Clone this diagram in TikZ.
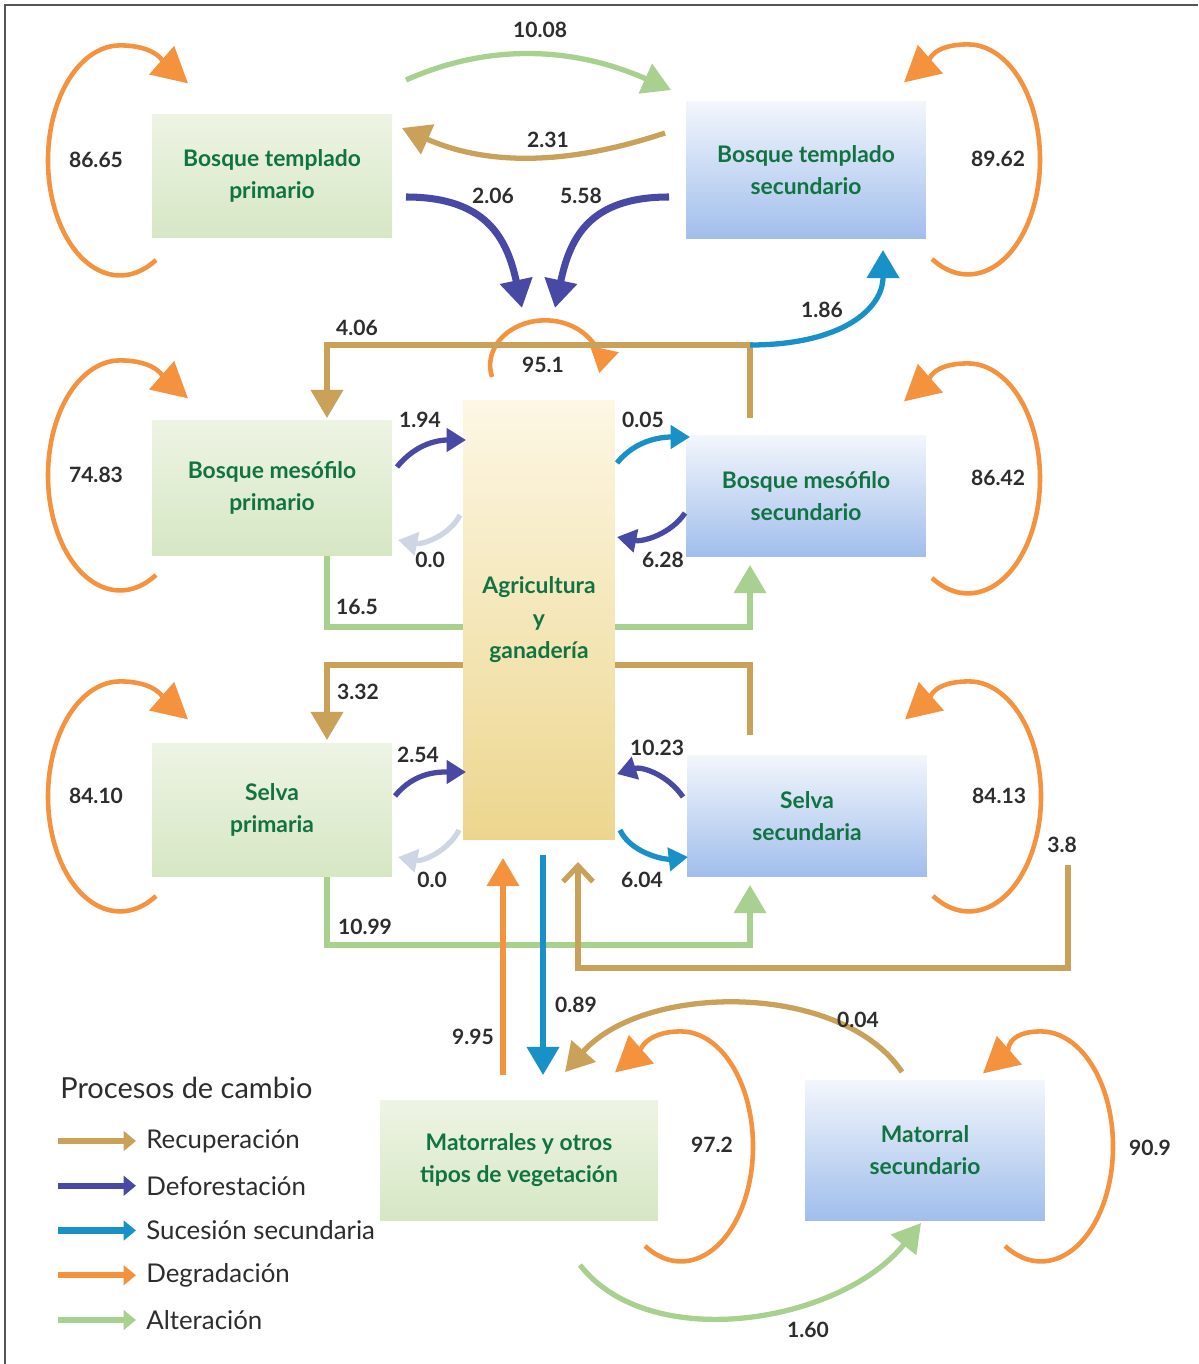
\documentclass[tikz,border=0pt]{standalone}
\usepackage{fontspec}
\setmainfont{Lato}
\usepackage{tikz}
\usetikzlibrary{arrows.meta, calc, backgrounds}
\usepackage{xcolor}
\definecolor{recup}{RGB}{201,161,88}
\definecolor{defor}{RGB}{72,72,165}
\definecolor{suces}{RGB}{24,145,200}
\definecolor{degrad}{RGB}{244,146,62}
\definecolor{alter}{RGB}{168,208,142}
\definecolor{nulo}{RGB}{205,214,226}
\definecolor{verdetxt}{RGB}{18,115,66}
\definecolor{numtxt}{RGB}{45,45,45}
\definecolor{marco}{RGB}{85,85,85}
\definecolor{vclaro}{RGB}{238,244,228}
\definecolor{voscuro}{RGB}{214,231,196}
\definecolor{aclaro}{RGB}{243,246,252}
\definecolor{aoscuro}{RGB}{160,190,236}
\definecolor{yclaro}{RGB}{253,247,228}
\definecolor{yoscuro}{RGB}{236,214,142}

\begin{document}
\begin{tikzpicture}[x=0.02cm, y=-0.02cm,
  caja/.style={minimum width=4.8cm, align=center, text=verdetxt, font=\bfseries\fontsize{13}{18.5}\selectfont},
  primario/.style={caja, top color=vclaro, bottom color=voscuro},
  secundario/.style={caja, top color=aclaro, bottom color=aoscuro},
  num/.style={text=numtxt, font=\bfseries\fontsize{12}{14}\selectfont, inner sep=1pt},
  leyenda/.style={anchor=west, inner sep=0pt, text=numtxt, font=\fontsize{14.7}{16}\selectfont},
  linea/.style={line width=3pt},
  punta/.style={-{Triangle[length=16pt,width=18pt]}},
  puntita/.style={-{Triangle[length=11pt,width=13pt]}},
  ciclo/.style={degrad, line width=2.6pt, -{Triangle[length=20pt,width=21pt]}}]
  \useasboundingbox (0,0) rectangle (1198,1364);
  \draw[marco, line width=1.2pt] (5,1364) |- (1198,5);

  % cover types
  \node[primario, minimum height=2.48cm] (btp) at (272,176) {Bosque templado\\primario};
  \node[secundario, minimum height=2.76cm] (bts) at (806,170) {Bosque templado\\secundario};
  \node[primario, minimum height=2.72cm] (bmp) at (272,488) {Bosque mesófilo\\primario};
  \node[secundario, minimum height=2.44cm] (bms) at (806,496) {Bosque mesófilo\\secundario};
  \node[caja, minimum width=3.04cm, minimum height=8.8cm, top color=yclaro, bottom color=yoscuro] (agri) at (539,620) {Agricultura\\y\\ganadería};
  \node[primario, minimum height=2.68cm] (sp) at (272,810) {Selva\\primaria};
  \node[secundario, minimum height=2.44cm] (ss) at (807,816) {Selva\\secundaria};
  \node[primario, minimum width=5.56cm, minimum height=2.4cm] (mat) at (519,1160) {Matorrales y otros\\tipos de vegetación};
  \node[secundario, minimum height=2.8cm] (ms) at (925,1150) {Matorral\\secundario};

  % loops: cover that stays the same
  \foreach \n/\dy/\val in {btp/84/86.65, bmp/87/74.83, sp/86/84.10}{
    \draw[ciclo] ([shift={(-116,\dy)}]\n.center) arc[start angle=60, end angle=270, x radius=72, y radius=115]
      .. controls +(35,0) and +(-25,-22) .. ++(68,38);
    \node[num] (p\n) at ([shift={(-176,\dy-100)}]\n.center) {\val};
  }
  \foreach \n/\dy/\val in {bts/89/89.62, bms/82/86.42, ss/80/84.13}{
    \draw[ciclo] ([shift={(126,\dy)}]\n.center) arc[start angle=120, end angle=-90, x radius=72, y radius=115]
      .. controls +(-35,0) and +(25,-22) .. ++(-64,38);
    \node[num] (p\n) at ([shift={(192,\dy-100)}]\n.center) {\val};
  }
  \draw[ciclo] ([shift={(126,86)}]mat.center) arc[start angle=120, end angle=-90, x radius=72, y radius=115]
    .. controls +(-35,0) and +(25,-22) .. ++(-66,41);
  \draw[ciclo] ([shift={(80,96)}]ms.center) arc[start angle=120, end angle=-90, x radius=72, y radius=115]
    .. controls +(-35,0) and +(25,-22) .. ++(-58,42);
  \draw[degrad, line width=2.6pt, -{Triangle[length=14pt,width=16pt]}] ([shift={(-47,-243)}]agri.center) arc[start angle=165, end angle=370, x radius=55, y radius=45];

  % temperate forest
  \draw[alter, linea, punta] ([shift={(134,-96)}]btp.center) .. controls +(90,-40) and +(-90,-40) .. ([shift={(-135,-80)}]bts.center);
  \draw[recup, linea, punta] ([shift={(-141,-37)}]bts.center) .. controls +(-90,30) and +(90,40) .. ([shift={(130,-48)}]btp.center);
  \draw[defor, line width=4pt, punta] ([shift={(134,21)}]btp.center) .. controls +(80,0) and +(-15,-70) .. ([shift={(-17,-312)}]agri.center);
  \draw[defor, line width=4pt, punta] ([shift={(-137,27)}]bts.center) .. controls +(-80,0) and +(15,-70) .. ([shift={(16,-312)}]agri.center);

  % cloud forest
  \coordinate (nudo1) at ([shift={(-56,-151)}]bms.center);
  \draw[recup, linea, punta] ([shift={(-56,-78)}]bms.center) -- (nudo1) -| ([shift={(55,-70)}]bmp.center);
  \draw[suces, linea, punta] (nudo1) .. controls +(90,0) and +(0,60) .. ([shift={(77,80)}]bts.center);
  \draw[defor, linea, puntita] ([shift={(125,-21)}]bmp.center) .. controls +(20,-25) and +(-25,0) .. ([shift={(-73,-180)}]agri.center);
  \draw[nulo, linea, puntita] ([shift={(-79,-105)}]agri.center) .. controls +(-10,20) and +(25,5) .. ([shift={(126,52)}]bmp.center);
  \draw[suces, linea, puntita] ([shift={(78,-157)}]agri.center) .. controls +(20,-25) and +(-25,0) .. ([shift={(-116,-59)}]bms.center);
  \draw[defor, linea, puntita] ([shift={(-121,17)}]bms.center) .. controls +(-15,22) and +(25,5) .. ([shift={(78,-83)}]agri.center);
  \coordinate (nudo2) at ([shift={(-56,131)}]bms.center);
  \coordinate (nudo3) at ([shift={(-57,-151)}]ss.center);
  \begin{scope}[on background layer]
    \draw[alter, linea, punta] ([shift={(55,68)}]bmp.center) |- (nudo2) -- ([shift={(-56,69)}]bms.center);
    \draw[recup, linea, punta] ([shift={(-57,-81)}]ss.center) -- (nudo3) -| ([shift={(55,-70)}]sp.center);
  \end{scope}

  % tropical forest
  \draw[defor, linea, puntita] ([shift={(123,-14)}]sp.center) .. controls +(20,-25) and +(-25,0) .. ([shift={(-73,152)}]agri.center);
  \draw[nulo, linea, puntita] ([shift={(-80,210)}]agri.center) .. controls +(-10,20) and +(25,5) .. ([shift={(126,47)}]sp.center);
  \draw[defor, linea, puntita] ([shift={(-124,-19)}]ss.center) .. controls +(-15,-22) and +(25,-8) .. ([shift={(78,154)}]agri.center);
  \draw[suces, linea, puntita] ([shift={(81,210)}]agri.center) .. controls +(10,22) and +(-25,3) .. ([shift={(-119,41)}]ss.center);
  \coordinate (nudo4) at ([shift={(-57,129)}]ss.center);
  \draw[alter, linea, punta] ([shift={(55,67)}]sp.center) |- (nudo4) -- ([shift={(-57,69)}]ss.center);
  \coordinate (nudo5) at ([shift={(261,49)}]ss.center);
  \draw[recup, linea, -{Straight Barb[length=9pt,width=17pt]}] (nudo5) -- ++(0,103) -| ([shift={(39,242)}]agri.center);

  % scrubland
  \draw[degrad, linea, punta] ([shift={(-16,-85)}]mat.center) -- ([shift={(-36,238)}]agri.center);
  \draw[suces, linea, punta] ([shift={(4,235)}]agri.center) -- ([shift={(24,-85)}]mat.center);
  \draw[recup, linea, punta] ([shift={(-23,-78)}]ms.center) .. controls +(-60,-90) and +(80,-90) .. ([shift={(46,-88)}]mat.center);
  \draw[alter, linea, punta] ([shift={(61,105)}]mat.center) .. controls +(70,90) and +(-80,100) .. ([shift={(-4,73)}]ms.center);

  % values
  \node[num] (e1008) at (540,30) {10.08};
  \node[num] (e231) at (548,140) {2.31};
  \node[num] (e206) at (493,196) {2.06};
  \node[num] (e558) at (581,196) {5.58};
  \node[num] (e406) at (357,328) {4.06};
  \node[num] (e186) at (822,310) {1.86};
  \node[num] (e951) at (543,365) {95.1};
  \node[num] (e194) at (420,420) {1.94};
  \node[num] (e005) at (643,420) {0.05};
  \node[num] (e00a) at (430,560) {0.0};
  \node[num] (e628) at (663,560) {6.28};
  \node[num] (e165) at (357,607) {16.5};
  \node[num] (e332) at (358,692) {3.32};
  \node[num] (e254) at (418,755) {2.54};
  \node[num] (e1023) at (657,748) {10.23};
  \node[num] (e00b) at (432,880) {0.0};
  \node[num] (e604) at (642,880) {6.04};
  \node[num] (e38) at (1062,845) {3.8};
  \node[num] (e1099) at (365,927) {10.99};
  \node[num] (e089) at (576,1005) {0.89};
  \node[num] (e995) at (473,1037) {9.95};
  \node[num] (e004) at (858,1020) {0.04};
  \node[num] (e972) at (712,1145) {97.2};
  \node[num] (e909) at (1150,1148) {90.9};
  \node[num] (e160) at (808,1330) {1.60};

  % legend
  \node[leyenda, font=\fontsize{16.5}{18}\selectfont] (titulo) at (60,1088) {Procesos de cambio};
  \foreach \c/\t [count=\i] in {recup/Recuperación, defor/Deforestación, suces/Sucesión secundaria, degrad/Degradación, alter/Alteración}{
    \node[leyenda] (ley\i) at (146,1096.25+44.75*\i) {\t};
    \draw[\c, line width=3.5pt, -{Triangle[length=7pt,width=11pt]}] ([shift={(-88,0)}]ley\i.west) -- ([shift={(-10,0)}]ley\i.west);
  }
\end{tikzpicture}
\end{document}
